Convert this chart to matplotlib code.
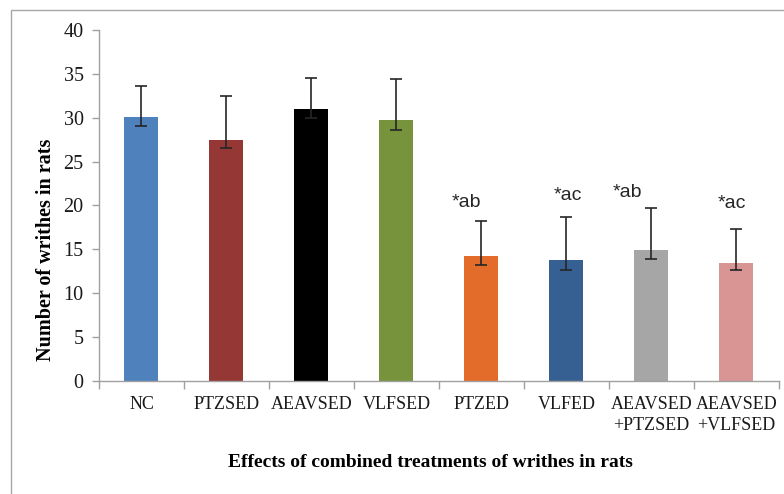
import matplotlib
matplotlib.use("Agg")
import matplotlib.pyplot as plt
from matplotlib.patches import Rectangle

categories = ["NC", "PTZSED", "AEAVSED", "VLFSED", "PTZED", "VLFED",
              "AEAVSED\n+PTZSED", "AEAVSED\n+VLFSED"]
values = [30.1, 27.5, 31.0, 29.7, 14.2, 13.75, 14.9, 13.5]
err_low = [1.0, 1.0, 1.0, 1.1, 1.0, 1.05, 1.0, 0.9]
err_high = [3.5, 5.0, 3.5, 4.7, 4.0, 4.95, 4.8, 3.85]
colors = ["#4F81BD", "#953735", "#000000", "#77933C", "#E46C2A",
          "#376092", "#A6A6A6", "#D99594"]
annot_labels = ["*ab", "*ac", "*ab", "*ac"]
annot_x = [3.82, 5.02, 5.72, 6.95]
annot_y = [20.3, 21.1, 21.5, 20.2]
yticks = [0, 5, 10, 15, 20, 25, 30, 35, 40]

W, H = 784, 494
fig = plt.figure(figsize=(W / 100, H / 100), dpi=100)
ax = fig.add_axes([99 / W, 1 - 381 / H, 680 / W, (381 - 30) / H])

# outer border (chart area frame)
fig.patches.append(Rectangle((11 / W, -0.1), 1.2, 1.1 - 10 / H,
                             transform=fig.transFigure, fill=False,
                             edgecolor="#A6A6A6", linewidth=1.0))

x = list(range(len(categories)))
ax.bar(x, values, width=0.4, color=colors, zorder=2)
ax.errorbar(x, values, yerr=[err_low, err_high], fmt="none",
            ecolor="#262626", elinewidth=1.2, capsize=4, capthick=1.2, zorder=3)

for lab, xx, yy in zip(annot_labels, annot_x, annot_y):
    ax.text(xx, yy, lab, ha="center", va="center", fontsize=14,
            family="Liberation Sans", color="#262626")

ax.set_xlim(-0.5, len(categories) - 0.5)
ax.set_ylim(0, 40)
ax.set_yticks(yticks)
ax.set_yticklabels([str(t) for t in yticks], family="Liberation Serif",
                   fontsize=14.5, color="#1a1a1a")
ax.set_xticks(x)
ax.set_xticklabels(categories, family="Liberation Serif", fontsize=13,
                   color="#1a1a1a", linespacing=1.3)
ax.set_xticks([i - 0.5 for i in range(len(categories) + 1)], minor=True)
ax.tick_params(axis="x", which="major", length=0, pad=11)
ax.tick_params(axis="x", which="minor", length=6, color="#A0A0A0", width=1)
ax.tick_params(axis="y", length=5, color="#A0A0A0", width=1, pad=6)

for s in ["top", "right"]:
    ax.spines[s].set_visible(False)
for s in ["left", "bottom"]:
    ax.spines[s].set_color("#A0A0A0")
    ax.spines[s].set_linewidth(1)

fig.text(46 / W, 1 - 250 / H, "Number of writhes in rats", rotation=90,
         ha="center", va="center", family="Liberation Serif",
         fontweight="bold", fontsize=14.5)
fig.text(430 / W, 1 - 462 / H, "Effects of combined treatments of writhes in rats",
         ha="center", va="center", family="Liberation Serif",
         fontweight="bold", fontsize=14)

fig.savefig("out.png", dpi=100)
